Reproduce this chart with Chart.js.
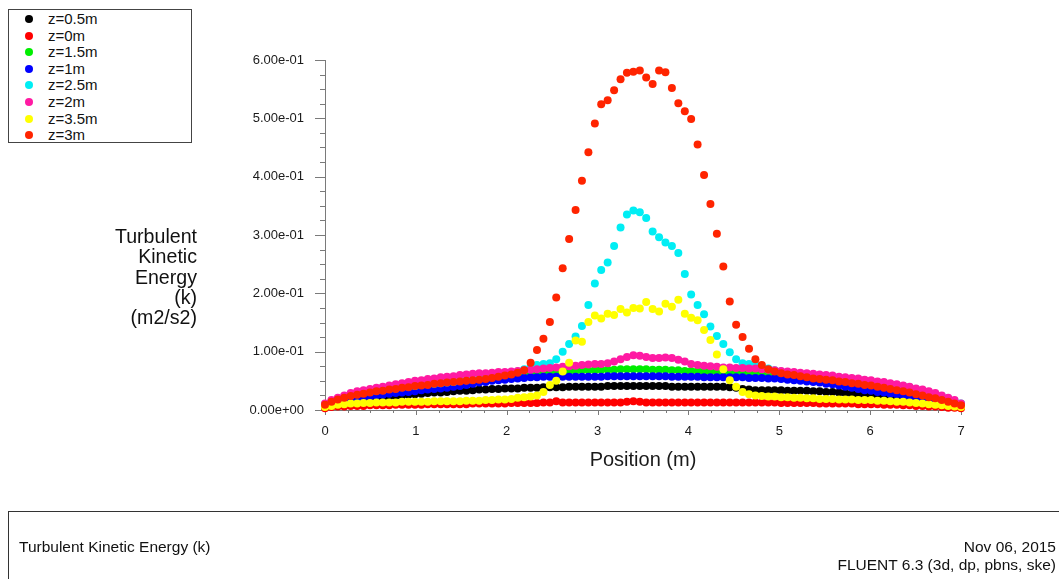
<!DOCTYPE html>
<html>
<head>
<meta charset="utf-8">
<title>Turbulent Kinetic Energy (k)</title>
<script src="https://cdn.jsdelivr.net/npm/chart.js@4.4.1/dist/chart.umd.min.js"></script>
<style>
  html, body { margin: 0; padding: 0; background: #fff; overflow: hidden; }
  body { width: 1059px; height: 579px; position: relative; font-family: "Liberation Sans", Arial, sans-serif; color: #111; }
  #chart { position: absolute; left: 0; top: 0; }
  .legend { position: absolute; left: 8px; top: 9px; width: 182px; height: 132px; border: 1px solid #444; background: #fff; }
  .legend .row { position: absolute; left: 0; height: 16px; line-height: 16px; font-size: 15px; white-space: nowrap; }
  .legend .dot { position: absolute; left: 16px; top: 4px; width: 8px; height: 8px; border-radius: 50%; }
  .legend .lbl { position: absolute; left: 39px; top: 0; }
  .ytitle { position: absolute; left: 0; top: 226px; width: 197px; text-align: right; font-size: 19.6px; line-height: 20.3px; }
  .footer { position: absolute; left: 8px; top: 511px; width: 1100px; height: 120px; border: 1px solid #333; }
  .footer span { position: absolute; font-size: 15.5px; white-space: nowrap; }
</style>
</head>
<body>
<canvas id="chart" width="1059" height="579"></canvas>
<div class="legend" id="legend"></div>
<div class="ytitle">Turbulent<br>Kinetic<br>Energy<br>(k)<br>(m2/s2)</div>
<div class="footer">
  <span style="left: 10px; top: 26px;">Turbulent Kinetic Energy (k)</span>
  <span style="right: 53px; top: 26px;">Nov 06, 2015</span>
  <span style="right: 53px; top: 44px;">FLUENT 6.3 (3d, dp, pbns, ske)</span>
</div>
<script>
// sample positions along the line (m)
const positions = [
  0.000, 0.071, 0.141, 0.212, 0.283, 0.354, 0.424, 0.495, 0.566, 0.636,
  0.707, 0.778, 0.848, 0.919, 0.990, 1.061, 1.131, 1.202, 1.273, 1.343,
  1.414, 1.485, 1.556, 1.626, 1.697, 1.768, 1.838, 1.909, 1.980, 2.051,
  2.121, 2.192, 2.263, 2.333, 2.404, 2.475, 2.545, 2.616, 2.687, 2.758,
  2.828, 2.899, 2.970, 3.040, 3.111, 3.182, 3.253, 3.323, 3.394, 3.465,
  3.535, 3.606, 3.677, 3.747, 3.818, 3.889, 3.960, 4.030, 4.101, 4.172,
  4.242, 4.313, 4.384, 4.455, 4.525, 4.596, 4.667, 4.737, 4.808, 4.879,
  4.949, 5.020, 5.091, 5.162, 5.232, 5.303, 5.374, 5.444, 5.515, 5.586,
  5.657, 5.727, 5.798, 5.869, 5.939, 6.010, 6.081, 6.152, 6.222, 6.293,
  6.364, 6.434, 6.505, 6.576, 6.646, 6.717, 6.788, 6.859, 6.929, 7.000
];

// k (m2/s2) per section
const kHalf = [
  0.005, 0.009, 0.012, 0.014, 0.016, 0.018, 0.019, 0.020, 0.021, 0.022,
  0.023, 0.024, 0.025, 0.026, 0.027, 0.028, 0.029, 0.030, 0.030, 0.031,
  0.032, 0.033, 0.033, 0.034, 0.035, 0.035, 0.036, 0.036, 0.037, 0.037,
  0.037, 0.038, 0.038, 0.038, 0.039, 0.039, 0.039, 0.039, 0.040, 0.040,
  0.040, 0.040, 0.040, 0.040, 0.041, 0.041, 0.041, 0.041, 0.041, 0.041,
  0.041, 0.041, 0.041, 0.041, 0.040, 0.040, 0.040, 0.040, 0.040, 0.040,
  0.040, 0.040, 0.040, 0.039, 0.038, 0.036, 0.035, 0.034, 0.034, 0.034,
  0.034, 0.034, 0.033, 0.033, 0.033, 0.033, 0.032, 0.032, 0.031, 0.031,
  0.030, 0.029, 0.028, 0.027, 0.026, 0.025, 0.024, 0.023, 0.022, 0.021,
  0.019, 0.018, 0.017, 0.015, 0.014, 0.013, 0.012, 0.011, 0.010, 0.009
];
const kZero = [
  0.003, 0.005, 0.006, 0.006, 0.007, 0.007, 0.007, 0.008, 0.008, 0.008,
  0.008, 0.009, 0.009, 0.009, 0.009, 0.009, 0.010, 0.010, 0.010, 0.010,
  0.010, 0.010, 0.010, 0.011, 0.011, 0.011, 0.011, 0.011, 0.011, 0.012,
  0.012, 0.012, 0.012, 0.012, 0.013, 0.013, 0.015, 0.013, 0.013, 0.013,
  0.013, 0.013, 0.013, 0.013, 0.013, 0.013, 0.013, 0.014, 0.015, 0.014,
  0.013, 0.013, 0.013, 0.013, 0.013, 0.013, 0.013, 0.013, 0.013, 0.013,
  0.013, 0.013, 0.013, 0.013, 0.013, 0.013, 0.013, 0.013, 0.013, 0.013,
  0.013, 0.012, 0.012, 0.012, 0.012, 0.012, 0.012, 0.011, 0.011, 0.011,
  0.011, 0.011, 0.011, 0.010, 0.010, 0.010, 0.010, 0.009, 0.009, 0.009,
  0.008, 0.008, 0.007, 0.007, 0.006, 0.006, 0.005, 0.004, 0.004, 0.003
];
const kOneHalf = [
  0.008, 0.012, 0.015, 0.018, 0.020, 0.022, 0.024, 0.026, 0.028, 0.029,
  0.031, 0.032, 0.034, 0.035, 0.036, 0.038, 0.039, 0.040, 0.041, 0.042,
  0.043, 0.044, 0.046, 0.047, 0.048, 0.050, 0.052, 0.054, 0.056, 0.058,
  0.060, 0.061, 0.062, 0.063, 0.064, 0.065, 0.066, 0.066, 0.067, 0.067,
  0.068, 0.068, 0.068, 0.069, 0.069, 0.069, 0.070, 0.070, 0.070, 0.070,
  0.070, 0.069, 0.069, 0.069, 0.068, 0.068, 0.067, 0.067, 0.067, 0.066,
  0.066, 0.066, 0.065, 0.065, 0.064, 0.064, 0.063, 0.063, 0.062, 0.061,
  0.060, 0.059, 0.058, 0.057, 0.056, 0.055, 0.054, 0.052, 0.051, 0.050,
  0.049, 0.048, 0.046, 0.045, 0.044, 0.042, 0.041, 0.039, 0.037, 0.036,
  0.034, 0.032, 0.030, 0.027, 0.025, 0.022, 0.019, 0.016, 0.013, 0.009
];
const kOne = [
  0.008, 0.011, 0.014, 0.016, 0.018, 0.020, 0.022, 0.023, 0.025, 0.026,
  0.028, 0.029, 0.030, 0.031, 0.032, 0.034, 0.035, 0.036, 0.037, 0.038,
  0.040, 0.041, 0.043, 0.045, 0.047, 0.048, 0.050, 0.051, 0.052, 0.053,
  0.054, 0.055, 0.056, 0.056, 0.057, 0.057, 0.057, 0.057, 0.057, 0.057,
  0.057, 0.057, 0.057, 0.057, 0.058, 0.058, 0.058, 0.058, 0.058, 0.058,
  0.058, 0.058, 0.058, 0.058, 0.057, 0.057, 0.057, 0.057, 0.057, 0.056,
  0.056, 0.056, 0.056, 0.056, 0.056, 0.056, 0.055, 0.055, 0.055, 0.054,
  0.054, 0.053, 0.052, 0.051, 0.050, 0.049, 0.048, 0.047, 0.045, 0.044,
  0.042, 0.040, 0.038, 0.036, 0.034, 0.033, 0.031, 0.030, 0.028, 0.027,
  0.025, 0.023, 0.021, 0.020, 0.018, 0.016, 0.014, 0.012, 0.010, 0.008
];
const kTwoHalf = [
  0.010, 0.015, 0.019, 0.022, 0.025, 0.027, 0.029, 0.031, 0.033, 0.034,
  0.036, 0.037, 0.039, 0.040, 0.041, 0.043, 0.044, 0.045, 0.046, 0.047,
  0.048, 0.050, 0.051, 0.052, 0.053, 0.055, 0.057, 0.059, 0.061, 0.063,
  0.066, 0.070, 0.074, 0.077, 0.079, 0.080, 0.087, 0.100, 0.113, 0.126,
  0.144, 0.180, 0.217, 0.240, 0.253, 0.281, 0.313, 0.335, 0.342, 0.339,
  0.329, 0.306, 0.296, 0.287, 0.281, 0.269, 0.233, 0.198, 0.180, 0.164,
  0.143, 0.127, 0.113, 0.099, 0.087, 0.080, 0.079, 0.077, 0.074, 0.071,
  0.068, 0.066, 0.064, 0.063, 0.062, 0.061, 0.060, 0.059, 0.058, 0.057,
  0.056, 0.055, 0.053, 0.052, 0.051, 0.049, 0.048, 0.046, 0.044, 0.043,
  0.041, 0.039, 0.036, 0.034, 0.031, 0.028, 0.024, 0.020, 0.016, 0.011
];
const kTwo = [
  0.011, 0.017, 0.021, 0.025, 0.029, 0.032, 0.034, 0.036, 0.038, 0.040,
  0.042, 0.044, 0.046, 0.048, 0.050, 0.051, 0.053, 0.054, 0.056, 0.057,
  0.058, 0.060, 0.061, 0.062, 0.063, 0.063, 0.064, 0.065, 0.065, 0.066,
  0.067, 0.068, 0.069, 0.070, 0.071, 0.072, 0.073, 0.074, 0.075, 0.076,
  0.077, 0.078, 0.079, 0.079, 0.080, 0.083, 0.087, 0.091, 0.094, 0.093,
  0.091, 0.089, 0.089, 0.090, 0.089, 0.086, 0.083, 0.079, 0.077, 0.076,
  0.075, 0.074, 0.073, 0.073, 0.072, 0.072, 0.071, 0.071, 0.070, 0.069,
  0.068, 0.067, 0.066, 0.065, 0.064, 0.063, 0.062, 0.061, 0.060, 0.059,
  0.057, 0.056, 0.055, 0.054, 0.052, 0.051, 0.049, 0.048, 0.046, 0.044,
  0.042, 0.040, 0.037, 0.035, 0.032, 0.029, 0.025, 0.021, 0.017, 0.011
];
const kThreeHalf = [
  0.005, 0.007, 0.009, 0.010, 0.011, 0.011, 0.012, 0.012, 0.013, 0.013,
  0.013, 0.013, 0.014, 0.014, 0.014, 0.014, 0.014, 0.015, 0.015, 0.015,
  0.015, 0.015, 0.016, 0.016, 0.016, 0.017, 0.017, 0.018, 0.018, 0.019,
  0.021, 0.022, 0.023, 0.025, 0.031, 0.043, 0.050, 0.066, 0.081, 0.119,
  0.117, 0.151, 0.162, 0.157, 0.165, 0.163, 0.173, 0.167, 0.175, 0.174,
  0.185, 0.173, 0.169, 0.182, 0.177, 0.189, 0.165, 0.158, 0.154, 0.137,
  0.120, 0.095, 0.070, 0.051, 0.040, 0.031, 0.027, 0.025, 0.024, 0.023,
  0.023, 0.022, 0.022, 0.021, 0.021, 0.020, 0.020, 0.019, 0.019, 0.019,
  0.018, 0.018, 0.018, 0.017, 0.017, 0.017, 0.016, 0.016, 0.015, 0.014,
  0.014, 0.013, 0.012, 0.011, 0.010, 0.009, 0.008, 0.007, 0.006, 0.005
];
const kThree = [
  0.009, 0.014, 0.018, 0.021, 0.024, 0.026, 0.028, 0.030, 0.032, 0.033,
  0.035, 0.036, 0.038, 0.039, 0.041, 0.042, 0.043, 0.045, 0.046, 0.047,
  0.048, 0.049, 0.050, 0.051, 0.052, 0.053, 0.055, 0.057, 0.059, 0.061,
  0.064, 0.068, 0.081, 0.103, 0.122, 0.151, 0.193, 0.243, 0.293, 0.343,
  0.393, 0.442, 0.491, 0.524, 0.531, 0.548, 0.567, 0.578, 0.580, 0.582,
  0.570, 0.559, 0.582, 0.579, 0.552, 0.526, 0.512, 0.499, 0.455, 0.403,
  0.353, 0.302, 0.246, 0.186, 0.146, 0.125, 0.105, 0.087, 0.077, 0.070,
  0.066, 0.063, 0.061, 0.060, 0.058, 0.056, 0.054, 0.053, 0.052, 0.051,
  0.049, 0.048, 0.046, 0.045, 0.043, 0.042, 0.040, 0.038, 0.036, 0.034,
  0.032, 0.030, 0.027, 0.025, 0.022, 0.020, 0.017, 0.014, 0.011, 0.008
];

const seriesNames = ['z=0.5m', 'z=0m', 'z=1.5m', 'z=1m', 'z=2.5m', 'z=2m', 'z=3.5m', 'z=3m'];
const seriesValues = [kHalf, kZero, kOneHalf, kOne, kTwoHalf, kTwo, kThreeHalf, kThree];
const seriesColors = ['#000000', '#ff0000', '#00ee00', '#0000ff', '#00eef4', '#ff1aa3', '#ffff00', '#ff2400'];

const xTicks = [0, 1, 2, 3, 4, 5, 6, 7];
const xTickLabels = ['0', '1', '2', '3', '4', '5', '6', '7'];
const yTicks = [0, 0.1, 0.2, 0.3, 0.4, 0.5, 0.6];
const yTickLabels = ['0.00e+00', '1.00e-01', '2.00e-01', '3.00e-01', '4.00e-01', '5.00e-01', '6.00e-01'];

const FONT = '"Liberation Sans", Arial, sans-serif';
const AXIS_COLOR = '#7a7a7a';

// html legend in the top-left box
const legendBox = document.getElementById('legend');
seriesNames.forEach((name, i) => {
    const row = document.createElement('div');
    row.className = 'row';
    row.style.top = (1 + i * 16.6) + 'px';
    row.style.width = '100%';
    row.innerHTML = '<span class="dot" style="background:' + seriesColors[i] + '"></span><span class="lbl">' + name + '</span>';
    legendBox.appendChild(row);
});

// major and minor tick marks, Fluent style (minor every quarter step)
const tickMarks = {
    id: 'tickMarks',
    beforeDatasetsDraw(chart) {
        const { ctx, scales: { x, y } } = chart;
        ctx.save();
        ctx.strokeStyle = AXIS_COLOR;
        ctx.lineWidth = 1;
        ctx.beginPath();
        for (let v = 0; v <= 7.0001; v += 0.25) {
            const px = Math.round(x.getPixelForValue(v)) + 0.5;
            const len = Math.abs(v - Math.round(v)) < 1e-6 ? 5 : 3;
            ctx.moveTo(px, y.bottom);
            ctx.lineTo(px, y.bottom + len);
        }
        for (let v = 0; v <= 0.6001; v += 0.025) {
            const py = Math.round(y.getPixelForValue(v)) + 0.5;
            const major = Math.abs(v * 10 - Math.round(v * 10)) < 1e-6;
            const len = major ? 10 : 5;
            ctx.moveTo(x.left, py);
            ctx.lineTo(x.left - len, py);
        }
        ctx.stroke();
        ctx.restore();
    }
};

const datasets = seriesNames.map((name, i) => ({
    label: name,
    data: positions.map((p, j) => ({ x: p, y: seriesValues[i][j] })),
    backgroundColor: seriesColors[i],
    borderColor: seriesColors[i],
    borderWidth: 0,
    pointRadius: 4,
    pointHoverRadius: 4,
    showLine: false,
    clip: false,
    order: seriesNames.length - i   // later sections painted on top
}));

new Chart(document.getElementById('chart').getContext('2d'), {
    type: 'scatter',
    data: { datasets },
    options: {
        responsive: false,
        animation: false,
        events: [],
        layout: { padding: { left: 245, right: 98, top: 60, bottom: 107 } },
        plugins: {
            legend: { display: false },
            tooltip: { enabled: false }
        },
        scales: {
            x: {
                type: 'linear',
                min: 0,
                max: 7,
                afterBuildTicks: s => { s.ticks = xTicks.map(v => ({ value: v })); },
                afterFit: s => { s.height = 62; },
                grid: { drawOnChartArea: false, drawTicks: false },
                border: { display: true, color: AXIS_COLOR, width: 1 },
                ticks: {
                    padding: 14,
                    color: '#1a1a1a',
                    font: { family: FONT, size: 13 },
                    maxRotation: 0,
                    callback: (v, i) => xTickLabels[i]
                },
                title: {
                    display: true,
                    text: 'Position (m)',
                    color: '#1a1a1a',
                    font: { family: FONT, size: 20 },
                    padding: { top: 10, bottom: 0 }
                }
            },
            y: {
                type: 'linear',
                min: 0,
                max: 0.6,
                afterBuildTicks: s => { s.ticks = yTicks.map(v => ({ value: v })); },
                afterFit: s => { s.width = 80; },
                grid: { drawOnChartArea: false, drawTicks: false },
                border: { display: true, color: AXIS_COLOR, width: 1 },
                ticks: {
                    padding: 21,
                    color: '#1a1a1a',
                    font: { family: FONT, size: 13 },
                    callback: (v, i) => yTickLabels[i]
                }
            }
        }
    },
    plugins: [tickMarks]
});
</script>
</body>
</html>
